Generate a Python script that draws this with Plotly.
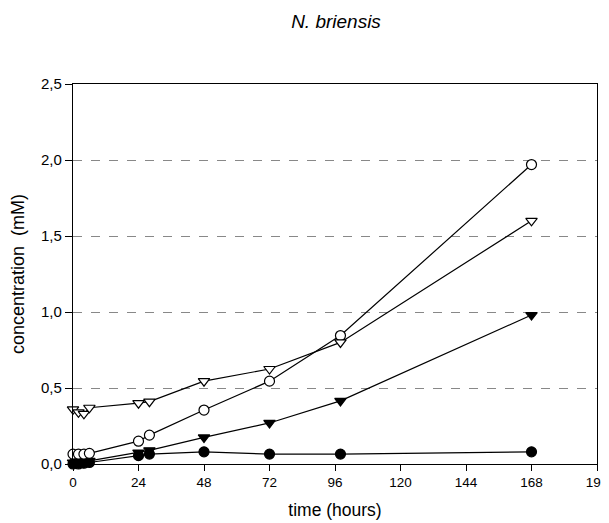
import plotly.graph_objects as go

time_h = [0, 2, 4, 6, 24, 28, 48, 72, 98, 168]
open_circle = [0.065, 0.065, 0.065, 0.07, 0.15, 0.19, 0.355, 0.545, 0.845, 1.97]
open_triangle = [0.36, 0.34, 0.33, 0.37, 0.40, 0.41, 0.545, 0.625, 0.80, 1.60]
filled_triangle = [0.01, 0.01, 0.01, 0.02, 0.075, 0.09, 0.175, 0.27, 0.415, 0.98]
filled_circle = [0.0, 0.0, 0.005, 0.01, 0.055, 0.065, 0.08, 0.065, 0.065, 0.08]

x_ticks = [0, 24, 48, 72, 96, 120, 144, 168, 192]
y_ticks = [0, 0.5, 1.0, 1.5, 2.0, 2.5]
y_tick_labels = ["0,0", "0,5", "1,0", "1,5", "2,0", "2,5"]

series = [
    (filled_circle, "circle", "black"),
    (filled_triangle, "triangle-down", "black"),
    (open_circle, "circle", "white"),
    (open_triangle, "triangle-down", "white"),
]

fig = go.Figure()
for vals, sym, fill in series:
    fig.add_trace(go.Scatter(
        x=time_h, y=vals, mode="lines+markers",
        line=dict(color="black", width=1.2),
        marker=dict(symbol=sym, size=10, color=fill,
                    line=dict(color="black", width=1.2)),
        cliponaxis=False, showlegend=False,
    ))

# the page body adds an 8px offset, so the figure is 8px smaller
W, H = 601, 515
font = "Liberation Sans, Arial, sans-serif"
fig.update_layout(
    width=W, height=H,
    margin=dict(l=65, r=12, t=76, b=59),
    paper_bgcolor="white", plot_bgcolor="white",
    font=dict(family=font, color="black", size=14),
    title=dict(text="<i>N. briensis</i>", x=328 / W, xanchor="center",
               y=1 - 13 / H, yanchor="middle", font=dict(size=19)),
)
fig.update_xaxes(
    range=[0, 192], tickvals=x_ticks, ticks="outside", ticklen=6,
    tickcolor="black", showline=True, linecolor="black", linewidth=1.2,
    mirror=True, showgrid=False, zeroline=False, automargin=False,
    ticklabeloverflow="allow", tickfont=dict(size=13.5),
    title=dict(text="time (hours)", font=dict(size=17.5), standoff=14),
)
fig.update_yaxes(
    range=[0, 2.5], tickvals=y_ticks, ticktext=y_tick_labels,
    ticks="outside", ticklen=7, tickcolor="black", tickfont=dict(size=15),
    showline=True, linecolor="black", linewidth=1.2, mirror=True,
    showgrid=True, gridcolor="#888888", griddash="dash", gridwidth=1,
    zeroline=False, automargin=False,
    title=dict(text="concentration  (mM)", font=dict(size=18), standoff=11),
)
fig.write_html("out.html")
